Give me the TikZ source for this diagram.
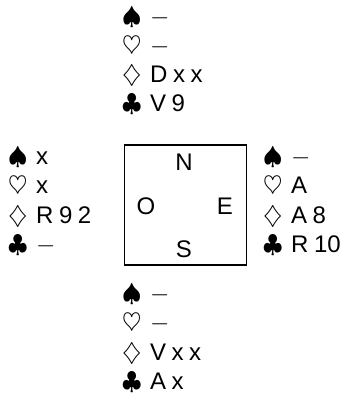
\documentclass[tikz,border=0pt]{standalone}
\usepackage{fontspec}
\setmainfont{Liberation Sans}
% suit symbol in a fixed-width slot, then the cards
\newcommand\suitsym[1]{\makebox[28pt][l]{\fontsize{26}{26}\selectfont$#1$}}
\newcommand\void{$-$}
\newcommand\gp{\kern5.5pt}
\begin{document}
\begin{tikzpicture}[x=1pt,y=-1pt,
  cardline/.style={anchor=base west, inner sep=0pt, text height=16pt, font=\fontsize{24}{26}\selectfont},
  seat/.style={inner sep=0pt, font=\fontsize{24}{26}\selectfont},
  tablebox/.style={draw, line width=1.8pt, minimum width=122pt, minimum height=120pt, inner sep=0pt}]
\useasboundingbox (0,0) rectangle (356,405);

% the table
\node[tablebox] (table) at (185.5,205) {};
\node[seat] (N) at (184,162) {N};
\node[seat] (O) at (146,206) {O};
\node[seat] (E) at (225,206) {E};
\node[seat] (S) at (184,249) {S};

% North
\node[cardline] (ns) at (122,24)    {\suitsym{\spadesuit}\void};
\node[cardline] (nh) at (122,53)    {\suitsym{\heartsuit}\void};
\node[cardline] (nd) at (122,82)    {\suitsym{\diamondsuit}D\gp x\gp x};
\node[cardline] (nc) at (122,111)   {\suitsym{\clubsuit}V\gp 9};

% West
\node[cardline] (ws) at (8,164)   {\suitsym{\spadesuit}x};
\node[cardline] (wh) at (8,193.5) {\suitsym{\heartsuit}x};
\node[cardline] (wd) at (8,223)   {\suitsym{\diamondsuit}R\gp 9\gp 2};
\node[cardline] (wc) at (8,252.5) {\suitsym{\clubsuit}\void};

% East
\node[cardline] (es) at (263,164)   {\suitsym{\spadesuit}\void};
\node[cardline] (eh) at (263,193.5) {\suitsym{\heartsuit}A};
\node[cardline] (ed) at (263,223)   {\suitsym{\diamondsuit}A\gp 8};
\node[cardline] (ec) at (263,252.5) {\suitsym{\clubsuit}R\gp 10};

% South
\node[cardline] (ss) at (122,301)   {\suitsym{\spadesuit}\void};
\node[cardline] (sh) at (122,330.5) {\suitsym{\heartsuit}\void};
\node[cardline] (sd) at (122,360)   {\suitsym{\diamondsuit}V\gp x\gp x};
\node[cardline] (sc) at (122,389.5) {\suitsym{\clubsuit}A\gp x};
\end{tikzpicture}
\end{document}
